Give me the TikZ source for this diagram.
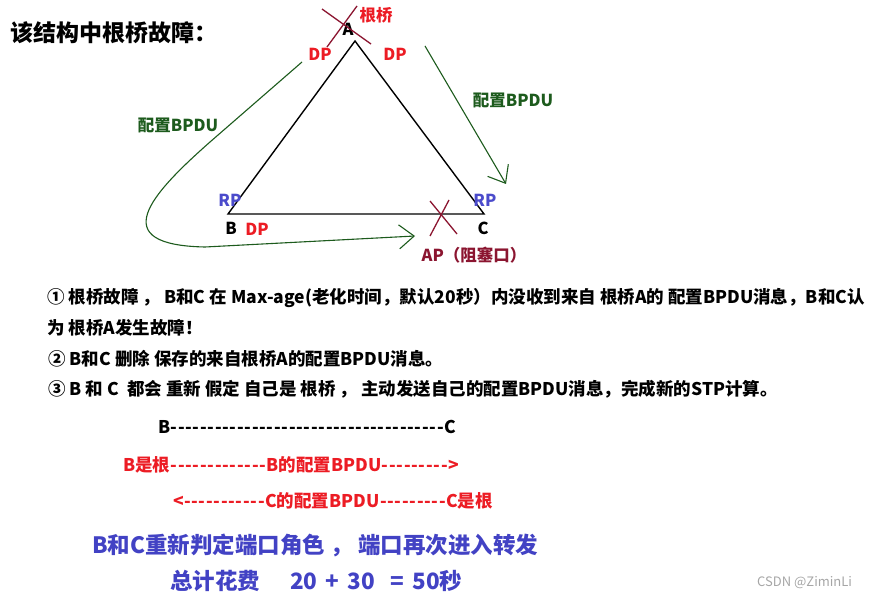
\documentclass[tikz,border=0pt]{standalone}
\usepackage{fontspec}
\setmainfont{Noto Sans CJK SC}
\usetikzlibrary{arrows.meta}

\definecolor{dpred}{HTML}{EC1C24}
\definecolor{crossred}{HTML}{8B1530}
\definecolor{bpdugreen}{HTML}{1D5B1D}
\definecolor{rpblue}{HTML}{4B4BCB}
\definecolor{sumblue}{HTML}{4242C4}

% one dash of the hand typed dash lines
\newcommand\dashrun[1]{\foreach \k in {1,...,#1}{\makebox[7.4pt]{-}}}

\tikzset{
  portlbl/.style={inner sep=0pt, font=\bfseries\fontsize{16.5}{18}\selectfont},
  dplbl/.style={portlbl, text=dpred},
  rplbl/.style={portlbl, text=rpblue},
  bpdulbl/.style={portlbl, text=bpdugreen},
  bpdu/.style={draw=bpdugreen, line width=1.1pt,
    -{Straight Barb[length=15pt,width=24pt,line width=1.1pt]}},
  fail/.style={draw=crossred, line width=1.3pt},
  bodyline/.style={anchor=west, inner sep=0pt, font=\bfseries\fontsize{17.5}{20}\selectfont},
  dashline/.style={anchor=west, inner sep=0pt, font=\bfseries\fontsize{17.5}{20}\selectfont},
  sumline/.style={anchor=west, inner sep=0pt, text=sumblue, font=\bfseries\fontsize{22.5}{26}\selectfont},
}

\begin{document}
\begin{tikzpicture}[x=1pt,y=-1pt]
  \useasboundingbox (0,0) rectangle (877,601);

  % Title
  \node[anchor=west, inner sep=0pt, font=\bfseries\fontsize{23}{26}\selectfont] (title) at (10,33) {该结构中根桥故障：};

  % Triangle vertices
  \coordinate (A) at (355,41);
  \coordinate (B) at (228,214);
  \coordinate (C) at (484,214);

  % Triangle edges
  \draw[line width=1.4pt] (A) -- (B) -- (C) -- cycle;

  % Bridge names
  \node[portlbl] (nameA) at (348,29) {A};
  \node[portlbl] (nameB) at (231,228) {B};
  \node[portlbl] (nameC) at (483,228) {C};

  % Root bridge A fails
  \draw[fail] (322,9) -- (371,44);
  \draw[fail] (357,6) -- (327,47);
  \node[portlbl, text=dpred] (rootlbl) at (376,15) {根桥};

  % Port roles
  \node[dplbl] (dpAB) at (320,54) {DP};
  \node[dplbl] (dpAC) at (395,54) {DP};
  \node[rplbl] (rpB) at (230,200) {RP};
  \node[rplbl] (rpC) at (485,200) {RP};
  \node[dplbl] (dpB) at (257,229) {DP};

  % Blocked port on B--C
  \draw[fail] (430,201) -- (457,234);
  \draw[fail] (449,200) -- (430,236);
  \node[portlbl, text=crossred] (aplbl) at (474,255) {AP（阻塞口）};

  % BPDU flow from A
  \coordinate (l0) at (302,62);
  \coordinate (l1) at (415,236);
  \coordinate (r0) at (425,46);
  \coordinate (r1) at (506,184);
  \draw[bpdu] (l0) -- (210,142) .. controls (150,195) and (105,245) .. (205,247) -- (l1);
  \draw[bpdu] (r0) -- (r1);
  \node[bpdulbl] (bpduL) at (178,125) {配置BPDU};
  \node[bpdulbl] (bpduR) at (513,100) {配置BPDU};

  % Steps
  \node[bodyline] (step1) at (47,298) {① 根桥故障 ， B和C 在 Max-age(老化时间，默认20秒）内没收到来自 根桥A的 配置BPDU消息，B和C认};
  \node[bodyline] (step1b) at (47,328) {为 根桥A发生故障！};
  \node[bodyline] (step2) at (48,359) {② B和C 删除 保存的来自根桥A的配置BPDU消息。};
  \node[bodyline] (step3) at (48,389) {③ B 和 C \ 都会 重新 假定 自己是 根桥 ， 主动发送自己的配置BPDU消息，完成新的STP计算。};

  % B and C both claim root
  \node[dashline] (bc) at (158,427) {B\dashrun{37}C};
  \node[dashline, text=dpred] (bsend) at (123,465) {B是根\dashrun{13}B的配置BPDU\dashrun{9}>};
  \node[dashline, text=dpred] (csend) at (173,501) {<\dashrun{11}C的配置BPDU\dashrun{9}C是根};

  % Result
  \node[sumline] (sum1) at (92,545) {B和C重新判定端口角色 ， 端口再次进入转发};
  \node[sumline] (sum2) at (170,581) {总计花费\hspace{30pt}20\hspace{8pt}+\hspace{8pt}30\hspace{16pt}=\hspace{8pt}50秒};

  % Watermark
  \node[anchor=west, inner sep=0pt, text=black!35, font=\fontsize{13}{15}\selectfont] (mark) at (757,583) {CSDN @ZiminLi};
\end{tikzpicture}
\end{document}
